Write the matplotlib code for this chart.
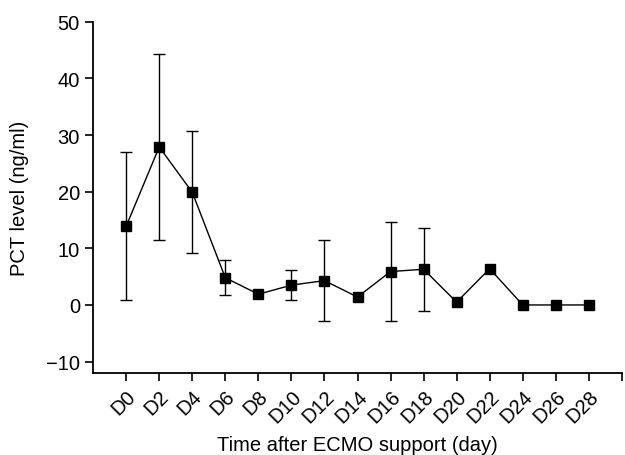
import numpy as np
import matplotlib.pyplot as plt

plt.rcParams['font.family'] = ['Liberation Sans', 'DejaVu Sans']

# データ
days = [0, 2, 4, 6, 8, 10, 12, 14, 16, 18, 20, 22, 24, 26, 28]
pct_mean = [13.9, 27.9, 19.9, 4.8, 1.9, 3.5, 4.3, 1.4, 5.9, 6.3, 0.5, 6.4, 0.0, 0.0, 0.0]
pct_err = [13.1, 16.4, 10.8, 3.1, 0, 2.7, 7.2, 0, 8.7, 7.3, 0, 0, 0, 0, 0]
tick_days = list(range(0, 31, 2))
tick_labels = ['D{}'.format(d) for d in days] + ['']

fig = plt.figure(figsize=(6.25, 4.56), dpi=100)
ax = fig.add_axes([0.149, 0.18, 0.846, 0.77])

# エラーバー (値のあるものだけ)
has_err = np.array(pct_err) > 0
ax.errorbar(np.array(days)[has_err], np.array(pct_mean)[has_err],
            yerr=np.array(pct_err)[has_err], fmt='none', ecolor='black',
            elinewidth=1, capsize=4.3, capthick=1)
ax.plot(days, pct_mean, color='black', lw=1, marker='s', ms=6.5,
        markerfacecolor='black', markeredgecolor='black')

ax.set_xlim(-2, 30)
ax.set_ylim(-12, 50)
ax.set_yticks([-10, 0, 10, 20, 30, 40, 50])
ax.set_yticklabels(['\u221210', '0', '10', '20', '30', '40', '50'])
ax.set_xticks(tick_days)
ax.set_xticklabels(tick_labels, rotation=45, ha='right', rotation_mode='anchor')

for s in ['top', 'right']:
    ax.spines[s].set_visible(False)
for s in ['left', 'bottom']:
    ax.spines[s].set_linewidth(1.3)
ax.tick_params(direction='out', length=6, width=1.2, labelsize=14.5, colors='black')

ax.set_xlabel('Time after ECMO support (day)', fontsize=14.5, labelpad=7)
ax.set_ylabel('PCT level (ng/ml)', fontsize=14.5, labelpad=12)

fig.savefig('out.png', dpi=100)
